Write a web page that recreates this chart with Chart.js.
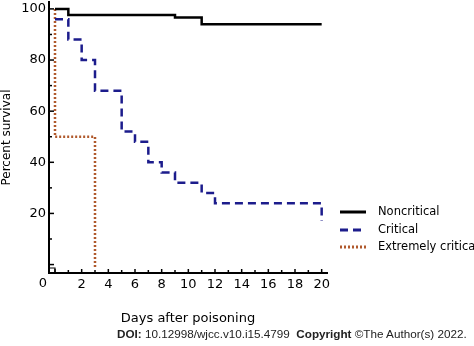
<!DOCTYPE html>
<html>
<head>
<meta charset="utf-8">
<script src="https://cdn.jsdelivr.net/npm/chart.js@4.4.0/dist/chart.umd.min.js"></script>
<style>
  html, body { margin: 0; padding: 0; background: #fff; }
  #wrap { position: relative; width: 474px; height: 346px; overflow: hidden; }
  #doi { position: absolute; left: 117px; top: 327px; font: 11.7px "Liberation Sans", Arial, sans-serif; color: #222; white-space: nowrap; }
</style>
</head>
<body>
<div id="wrap">
  <canvas id="survival" width="474" height="346"></canvas>
  <div id="doi"><b>DOI:</b> 10.12998/wjcc.v10.i15.4799&nbsp; <b>Copyright</b> ©The Author(s) 2022.</div>
</div>
<script>
// Kaplan-Meier data
const seriesNames = ['Noncritical', 'Critical', 'Extremely critical'];
const noncritDays = [0, 1, 9, 11, 20];
const noncritSurv = [100, 97.6, 96.6, 94, 94];
const critDays = [0, 1, 2, 3, 5, 6, 7, 8, 9, 11, 12, 20, 20];
const critSurv = [96, 88, 80, 68, 52, 48, 40, 36, 32, 28, 24, 24, 17];
const extDays = [0, 0, 3, 3];
const extSurv = [100, 50, 50, -1];

function pts(xs, ys) {
    return xs.map((d, i) => ({ x: d, y: ys[i] }));
}

const FONT = '"DejaVu Sans", Verdana, sans-serif';

// inward ticks, origin label, legend
const extras = {
    id: 'extras',
    afterDraw(chart) {
        const ctx = chart.ctx;
        const x = chart.scales.x, y = chart.scales.y;
        ctx.save();
        ctx.strokeStyle = '#000';
        ctx.lineWidth = 1.5;
        x.ticks.forEach(t => {
            if (!Number.isInteger(t.value) || t.value < 0 || t.value > 20) return;
            const px = x.getPixelForValue(t.value);
            ctx.beginPath();
            ctx.moveTo(px, y.bottom);
            ctx.lineTo(px, y.bottom - (t.value % 2 === 0 ? 4 : 3));
            ctx.stroke();
        });
        y.ticks.forEach(t => {
            if (!Number.isInteger(t.value) || t.value < 0 || t.value > 100) return;
            const py = y.getPixelForValue(t.value);
            ctx.beginPath();
            ctx.moveTo(x.left, py);
            ctx.lineTo(x.left + (t.value % 20 === 0 ? 5 : 3), py);
            ctx.stroke();
        });
        // small corner mark at the origin
        const ox = x.getPixelForValue(0);
        ctx.lineWidth = 1.2;
        ctx.beginPath();
        ctx.moveTo(x.left, y.bottom - 5);
        ctx.lineTo(ox, y.bottom - 5);
        ctx.lineTo(ox, y.bottom);
        ctx.stroke();

        // origin label
        ctx.fillStyle = '#000';
        ctx.font = '13px ' + FONT;
        ctx.textAlign = 'center';
        ctx.textBaseline = 'middle';
        ctx.fillText('0', 43, 284);

        // legend
        ctx.font = '11.5px ' + FONT;
        ctx.textAlign = 'left';
        const rows = [212, 230, 247];
        chart.data.datasets.forEach((ds, i) => {
            ctx.strokeStyle = ds.borderColor;
            ctx.lineWidth = ds.borderWidth + 0.5;
            ctx.setLineDash(ds.borderDash || []);
            ctx.beginPath();
            ctx.moveTo(340, rows[i]);
            ctx.lineTo(366, rows[i]);
            ctx.stroke();
            ctx.setLineDash([]);
            ctx.fillStyle = '#000';
            ctx.fillText(ds.label, 378, rows[i]);
        });
        ctx.restore();
    }
};

const data = {
    datasets: [{
        label: seriesNames[0],
        data: pts(noncritDays, noncritSurv),
        borderColor: '#000000',
        borderWidth: 2.5,
        stepped: true
    }, {
        label: seriesNames[1],
        data: pts(critDays, critSurv),
        borderColor: '#1c1c8c',
        borderWidth: 2.5,
        borderDash: [8, 5],
        stepped: true
    }, {
        label: seriesNames[2],
        data: pts(extDays, extSurv),
        borderColor: '#b0592c',
        borderWidth: 2.5,
        borderDash: [2, 2],
        stepped: true
    }]
};

const config = {
    type: 'line',
    data: data,
    plugins: [extras],
    options: {
        responsive: false,
        animation: false,
        layout: { padding: { left: 0, top: 2, right: 147, bottom: 20 } },
        elements: { point: { radius: 0 }, line: { tension: 0, fill: false } },
        scales: {
            x: {
                type: 'linear',
                min: -0.45,
                max: 20.4,
                afterFit: function (s) { s.height = 53; s.paddingLeft = 0; s.paddingRight = 0; },
                border: { display: true, color: '#000', width: 2 },
                grid: { display: false, drawTicks: false },
                ticks: {
                    stepSize: 1,
                    includeBounds: false,
                    autoSkip: false,
                    maxRotation: 0,
                    padding: 4,
                    color: '#000',
                    font: { family: FONT, size: 13 },
                    callback: v => (Number.isInteger(v) && v > 0 && v % 2 === 0) ? String(v) : ''
                },
                title: {
                    display: true,
                    text: 'Days after poisoning',
                    color: '#000',
                    padding: 0,
                    font: { family: FONT, size: 13 }
                }
            },
            y: {
                min: -3.3,
                max: 102.7,
                afterFit: function (s) { s.width = 49; s.paddingTop = 0; s.paddingBottom = 0; },
                border: { display: true, color: '#000', width: 2 },
                grid: { display: false, drawTicks: false },
                ticks: {
                    stepSize: 10,
                    includeBounds: false,
                    padding: 3,
                    color: '#000',
                    font: { family: FONT, size: 13 },
                    callback: v => (Number.isInteger(v) && v > 0 && v % 20 === 0) ? String(v) : ''
                },
                title: {
                    display: true,
                    text: 'Percent survival',
                    color: '#000',
                    padding: 0,
                    font: { family: FONT, size: 12 }
                }
            }
        },
        plugins: {
            legend: { display: false },
            tooltip: { enabled: false }
        }
    }
};

var survivalChart = new Chart(document.getElementById('survival'), config);
</script>
</body>
</html>
